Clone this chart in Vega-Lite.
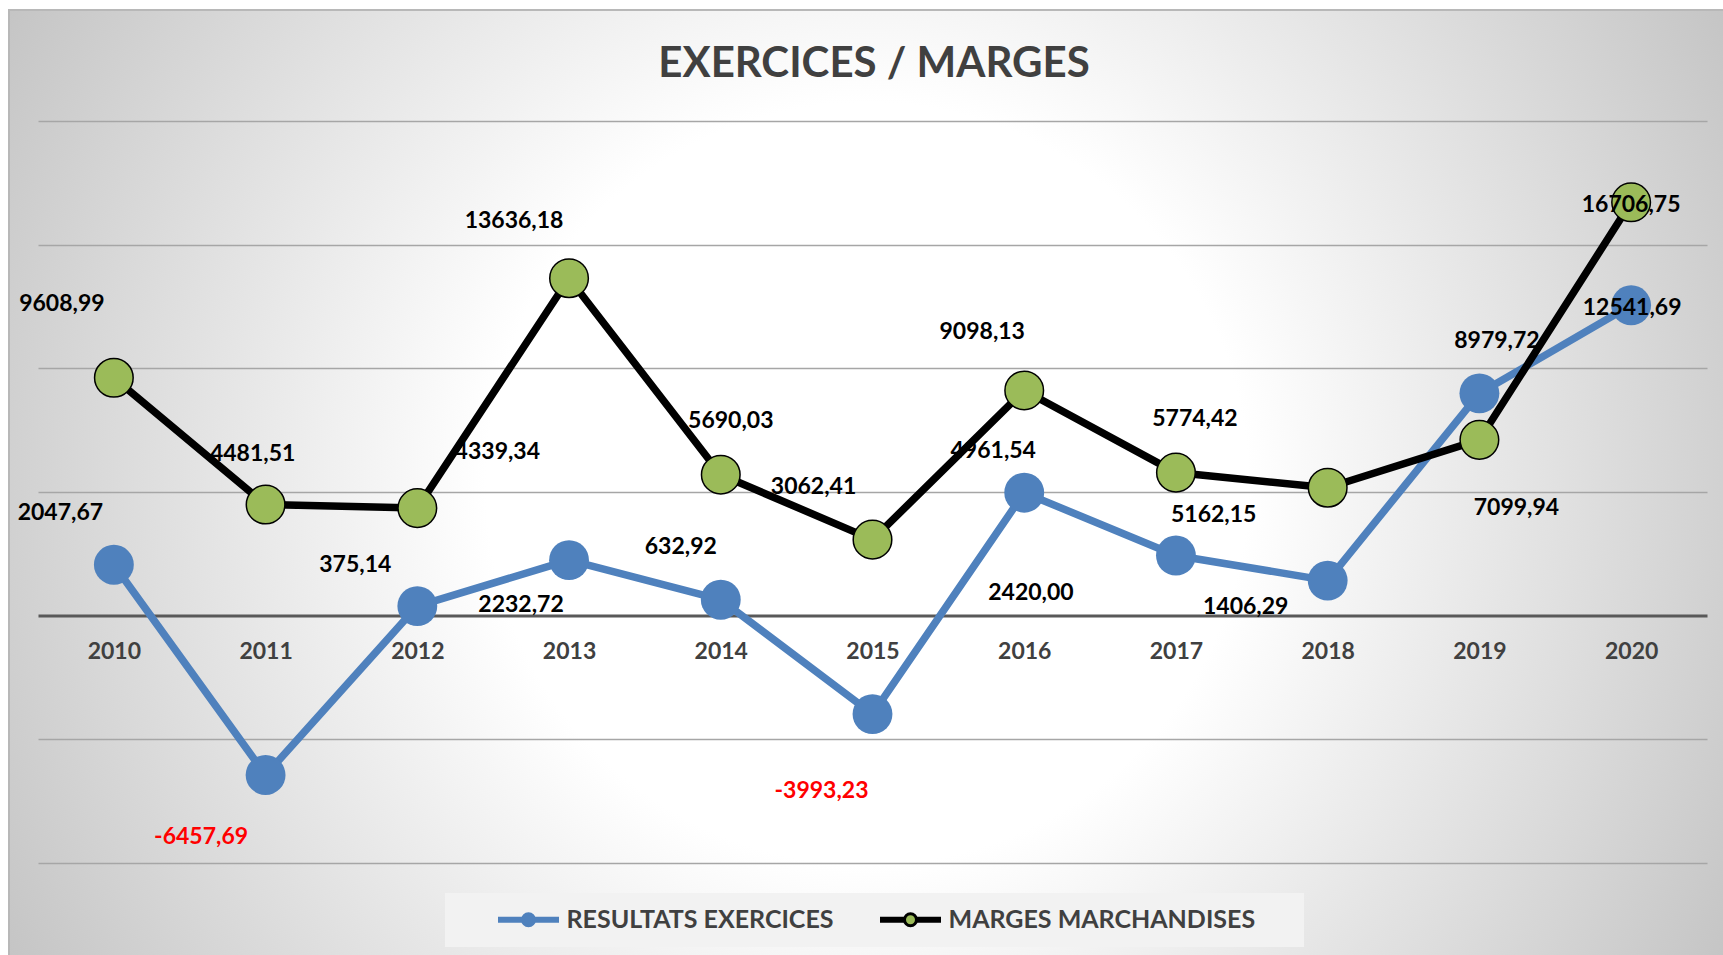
{
  "$schema": "https://vega.github.io/schema/vega-lite/v6.json",
  "width": 1716,
  "height": 947,
  "autosize": {"type": "none"},
  "padding": {"left": 9, "top": 10, "right": 0, "bottom": 0},
  "background": "#ffffff",
  "view": {
    "fill": {"gradient": "radial", "x1": 0.5, "y1": 0.5, "r1": 0, "x2": 0.5, "y2": 0.5, "r2": 0.6,
      "stops": [{"offset": 0, "color": "#ffffff"}, {"offset": 0.37, "color": "#ffffff"}, {"offset": 1, "color": "#c0c0c0"}]},
    "stroke": "#b8b8b8",
    "strokeWidth": 2
  },
  "title": {"text": "EXERCICES / MARGES", "font": "Lato", "fontSize": 42, "fontWeight": "bold", "color": "#404040", "anchor": "middle", "frame": "group", "baseline": "alphabetic", "offset": -109, "dx": 7},
  "data": {"values": [
    {"year": 2010, "serie": "RESULTATS EXERCICES", "v": 2047.67},
    {"year": 2011, "serie": "RESULTATS EXERCICES", "v": -6457.69},
    {"year": 2012, "serie": "RESULTATS EXERCICES", "v": 375.14},
    {"year": 2013, "serie": "RESULTATS EXERCICES", "v": 2232.72},
    {"year": 2014, "serie": "RESULTATS EXERCICES", "v": 632.92},
    {"year": 2015, "serie": "RESULTATS EXERCICES", "v": -3993.23},
    {"year": 2016, "serie": "RESULTATS EXERCICES", "v": 4961.54},
    {"year": 2017, "serie": "RESULTATS EXERCICES", "v": 2420.00},
    {"year": 2018, "serie": "RESULTATS EXERCICES", "v": 1406.29},
    {"year": 2019, "serie": "RESULTATS EXERCICES", "v": 8979.72},
    {"year": 2020, "serie": "RESULTATS EXERCICES", "v": 12541.69},
    {"year": 2010, "serie": "MARGES MARCHANDISES", "v": 9608.99},
    {"year": 2011, "serie": "MARGES MARCHANDISES", "v": 4481.51},
    {"year": 2012, "serie": "MARGES MARCHANDISES", "v": 4339.34},
    {"year": 2013, "serie": "MARGES MARCHANDISES", "v": 13636.18},
    {"year": 2014, "serie": "MARGES MARCHANDISES", "v": 5690.03},
    {"year": 2015, "serie": "MARGES MARCHANDISES", "v": 3062.41},
    {"year": 2016, "serie": "MARGES MARCHANDISES", "v": 9098.13},
    {"year": 2017, "serie": "MARGES MARCHANDISES", "v": 5774.42},
    {"year": 2018, "serie": "MARGES MARCHANDISES", "v": 5162.15},
    {"year": 2019, "serie": "MARGES MARCHANDISES", "v": 7099.94},
    {"year": 2020, "serie": "MARGES MARCHANDISES", "v": 16706.75}
  ]},
  "transform": [
    {"calculate": "replace(replace(format(datum.v, '.2f'), '.', ','), '\u2212', '-')", "as": "lbl"}
  ],
  "encoding": {
    "x": {"field": "year", "type": "quantitative",
      "scale": {"domain": [2009.5, 2020.5], "range": [29, 1698], "nice": false, "zero": false},
      "axis": {"orient": "bottom", "offset": -341.6, "values": [2010, 2011, 2012, 2013, 2014, 2015, 2016, 2017, 2018, 2019, 2020], "format": "d", "title": null, "ticks": false, "tickSize": 0, "grid": false, "domain": true, "domainColor": "#595959", "domainWidth": 3, "labelFont": "Lato", "labelFontSize": 23, "labelFontWeight": "bold", "labelColor": "#404040", "labelPadding": 25}},
    "y": {"field": "v", "type": "quantitative",
      "scale": {"domain": [-10000, 20000], "range": [852.6, 110.9], "nice": false, "zero": false},
      "axis": {"orient": "left", "values": [-10000, -5000, 5000, 10000, 15000, 20000], "title": null, "labels": false, "ticks": false, "domain": false, "grid": true, "gridColor": "#a6a6a6", "gridWidth": 1.5}}
  },
  "layer": [
    {
      "transform": [{"filter": "datum.serie == 'RESULTATS EXERCICES'"}],
      "mark": {"type": "line", "strokeWidth": 7.5, "strokeCap": "round", "strokeJoin": "round"},
      "encoding": {"stroke": {"field": "serie", "type": "nominal",
        "scale": {"domain": ["RESULTATS EXERCICES", "MARGES MARCHANDISES"], "range": ["#4f81bd", "#000000"]},
        "legend": {"title": null, "orient": "none", "legendX": 436, "legendY": 883, "direction": "horizontal", "columns": 2, "padding": 14, "fillColor": "#f2f2f2",
          "labelFont": "Lato", "labelFontSize": 25, "labelFontWeight": "bold", "labelColor": "#404040", "labelLimit": 700,
          "symbolType": "M-2.9,-0.15H-0.6V0.15H-2.9Z M0.6,-0.15H2.9V0.15H0.6Z M-0.6,0A0.6,0.6,0,1,1,0.6,0A0.6,0.6,0,1,1,-0.6,0Z",
          "symbolSize": 400, "symbolStrokeWidth": 3, "symbolOffset": 57, "labelOffset": 25.5, "columnPadding": 7,
          "encode": {"symbols": {"update": {
            "shape": {"signal": "datum.value == 'MARGES MARCHANDISES' ? 'M-2.9,-0.15H-0.6V0.15H-2.9Z M0.6,-0.15H2.9V0.15H0.6Z M-0.6,0A0.6,0.6,0,1,1,0.6,0A0.6,0.6,0,1,1,-0.6,0Z M37.3,0' : 'M-2.9,-0.15H-0.6V0.15H-2.9Z M0.6,-0.15H2.9V0.15H0.6Z M-0.6,0A0.6,0.6,0,1,1,0.6,0A0.6,0.6,0,1,1,-0.6,0Z'"},
            "fill": {"signal": "datum.value == 'MARGES MARCHANDISES' ? '#9bbb59' : '#4f81bd'"},
            "stroke": {"signal": "datum.value == 'MARGES MARCHANDISES' ? '#000000' : '#4f81bd'"},
            "strokeWidth": {"value": 3},
            "opacity": {"value": 1}
          }}}}}}
    },
    {
      "transform": [{"filter": "datum.serie == 'RESULTATS EXERCICES'"}],
      "mark": {"type": "point", "shape": "circle", "filled": true, "fill": "#4f81bd", "size": 1590, "opacity": 1, "strokeWidth": 0}
    },
    {
      "transform": [{"filter": "datum.serie == 'MARGES MARCHANDISES'"}],
      "mark": {"type": "line", "strokeWidth": 7.5, "strokeCap": "round", "strokeJoin": "round"},
      "encoding": {"stroke": {"field": "serie", "type": "nominal",
        "scale": {"domain": ["RESULTATS EXERCICES", "MARGES MARCHANDISES"], "range": ["#4f81bd", "#000000"]},
        "legend": {"title": null, "orient": "none", "legendX": 436, "legendY": 883, "direction": "horizontal", "columns": 2, "padding": 14, "fillColor": "#f2f2f2",
          "labelFont": "Lato", "labelFontSize": 25, "labelFontWeight": "bold", "labelColor": "#404040", "labelLimit": 700,
          "symbolType": "M-2.9,-0.15H-0.6V0.15H-2.9Z M0.6,-0.15H2.9V0.15H0.6Z M-0.6,0A0.6,0.6,0,1,1,0.6,0A0.6,0.6,0,1,1,-0.6,0Z",
          "symbolSize": 400, "symbolStrokeWidth": 3, "symbolOffset": 57, "labelOffset": 25.5, "columnPadding": 7,
          "encode": {"symbols": {"update": {
            "shape": {"signal": "datum.value == 'MARGES MARCHANDISES' ? 'M-2.9,-0.15H-0.6V0.15H-2.9Z M0.6,-0.15H2.9V0.15H0.6Z M-0.6,0A0.6,0.6,0,1,1,0.6,0A0.6,0.6,0,1,1,-0.6,0Z M37.3,0' : 'M-2.9,-0.15H-0.6V0.15H-2.9Z M0.6,-0.15H2.9V0.15H0.6Z M-0.6,0A0.6,0.6,0,1,1,0.6,0A0.6,0.6,0,1,1,-0.6,0Z'"},
            "fill": {"signal": "datum.value == 'MARGES MARCHANDISES' ? '#9bbb59' : '#4f81bd'"},
            "stroke": {"signal": "datum.value == 'MARGES MARCHANDISES' ? '#000000' : '#4f81bd'"},
            "strokeWidth": {"value": 3},
            "opacity": {"value": 1}
          }}}}}}
    },
    {
      "transform": [{"filter": "datum.serie == 'MARGES MARCHANDISES'"}],
      "mark": {"type": "point", "shape": "circle", "filled": true, "fill": "#9bbb59", "stroke": "#000000", "strokeWidth": 1.5, "size": 1490, "opacity": 1}
    },
    {
      "mark": {"type": "text", "font": "Lato", "fontSize": 23, "fontWeight": "bold", "align": "center", "baseline": "middle",
        "dx": {"expr": "datum.serie == 'MARGES MARCHANDISES' ? [-52,-13,80,-55,10,-59,-42,19,-114,37,0][datum.year-2010] : [-53.5,-64.5,-62,-48,-40,-51,-31,-145,-82,17.5,1][datum.year-2010]"},
        "dy": {"expr": "datum.serie == 'MARGES MARCHANDISES' ? [-73.5,-51,-56,-57,-54,-53,-58,-54,27,68,3][datum.year-2010] : [-51.5,62,-41,45,-53,77,-42,37,26,-52,3][datum.year-2010]"}},
      "encoding": {
        "text": {"field": "lbl", "type": "nominal"},
        "color": {"condition": {"test": "datum.v < 0", "value": "#ff0000"}, "value": "#000000"}
      }
    }
  ]
}
